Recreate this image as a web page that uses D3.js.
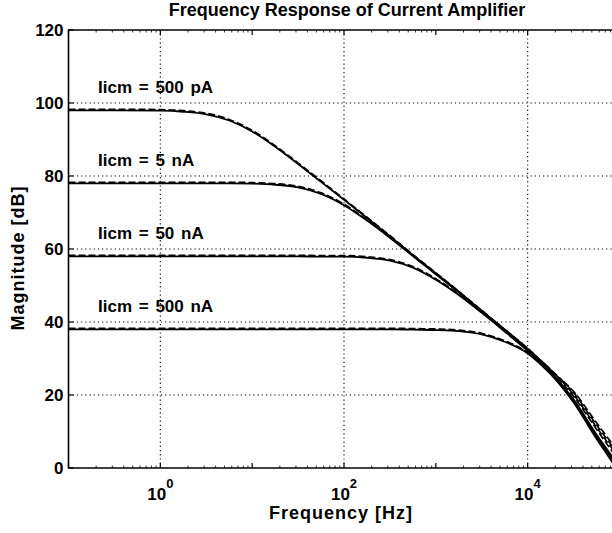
<!DOCTYPE html>
<html>
<head>
<meta charset="utf-8">
<script src="https://cdn.jsdelivr.net/npm/d3@7/dist/d3.min.js"></script>
<style>
  html, body { margin: 0; padding: 0; background: #fff; }
  svg { display: block; }
  text { font-family: "Liberation Sans", Arial, Helvetica, sans-serif; font-weight: bold; fill: #000; }
</style>
</head>
<body>
<svg id="chart" width="612" height="533"></svg>
<script>
// Frequency grid (Hz) shared by every trace
const freqHz = [0.1, 0.316, 1, 1.78, 3.16, 5.62, 10, 17.8, 31.6, 56.2, 100, 178, 316, 562,
                1000, 1780, 3160, 5620, 10000, 17800, 31600, 56200, 77600, 100000];

// Magnitude in dB, solid (measured) and dashed (model) per bias current
const solid500pA  = [98.0, 98.0, 97.9, 97.6, 96.9, 95.2, 92.2, 88.0, 83.3, 78.4, 73.5, 68.5, 63.5, 58.3, 53.3, 48.2, 43.0, 37.8, 32.5, 26.0, 18.0, 8.0, 2.8, -1.5];
const dashed500pA = [98.3, 98.3, 98.2, 97.9, 97.2, 95.5, 92.5, 88.3, 83.6, 78.7, 73.7, 68.7, 63.7, 58.5, 53.5, 48.4, 43.2, 38.0, 32.8, 26.7, 19.6, 10.6, 5.6, 1.8];
const solid5nA    = [78.0, 78.0, 78.0, 78.0, 78.0, 78.0, 77.9, 77.6, 76.9, 75.1, 72.0, 67.8, 63.1, 58.1, 53.1, 48.1, 42.9, 37.8, 32.4, 26.2, 18.4, 8.6, 3.5, -0.6];
const dashed5nA   = [78.3, 78.3, 78.3, 78.3, 78.3, 78.3, 78.2, 77.9, 77.2, 75.4, 72.3, 68.0, 63.3, 58.3, 53.3, 48.3, 43.1, 38.0, 32.7, 26.9, 20.1, 11.2, 6.3, 2.6];
const solid50nA   = [58.0, 58.0, 58.0, 58.0, 58.0, 58.0, 58.0, 58.0, 58.0, 57.9, 57.9, 57.6, 56.8, 54.9, 51.6, 47.4, 42.5, 37.4, 32.1, 26.3, 18.8, 9.2, 4.2, 0.2];
const dashed50nA  = [58.3, 58.3, 58.3, 58.3, 58.3, 58.3, 58.3, 58.3, 58.3, 58.2, 58.2, 57.9, 57.1, 55.2, 51.9, 47.6, 42.7, 37.6, 32.4, 27.0, 20.6, 11.8, 7.0, 3.4];
const solid500nA  = [38.0, 38.0, 38.0, 38.0, 38.0, 38.0, 38.0, 38.0, 38.0, 38.0, 38.0, 38.0, 38.0, 37.9, 37.8, 37.5, 36.6, 34.6, 31.4, 25.7, 18.2, 8.9, 3.9, 0.0];
const dashed500nA = [38.3, 38.3, 38.3, 38.3, 38.3, 38.3, 38.3, 38.3, 38.3, 38.3, 38.3, 38.3, 38.3, 38.2, 38.1, 37.8, 36.9, 34.9, 31.7, 26.6, 21.0, 12.4, 7.7, 4.2];

// Curve labels and their low-frequency gain (dB)
const curveLabels = ["Iicm = 500 pA", "Iicm = 5 nA", "Iicm = 50 nA", "Iicm = 500 nA"];
const curveGains  = [98, 78, 58, 38];

// Axis ticks
const yTicks = [0, 20, 40, 60, 80, 100, 120];
const xLabelExponents = [0, 2, 4];
const xDecades = [0.1, 1, 10, 100, 1000, 10000, 100000];

const titleText = "Frequency Response of Current Amplifier";
const xTitle = "Frequency [Hz]";
const yTitle = "Magnitude [dB]";

const svg = d3.select("#chart");
const plot = { left: 68.5, right: 619.5, top: 30, bottom: 468 };

const x = d3.scaleLog().domain([0.1, 1e5]).range([plot.left, plot.right]);
const y = d3.scaleLinear().domain([0, 120]).range([plot.bottom, plot.top]);

svg.append("defs").append("clipPath").attr("id", "plotClip")
  .append("rect")
  .attr("x", plot.left).attr("y", plot.top)
  .attr("width", plot.right - plot.left).attr("height", plot.bottom - plot.top);

// Dotted grid
const grid = svg.append("g").attr("stroke", "#000").attr("stroke-width", 1.1)
  .attr("stroke-dasharray", "1.2,3");
[20, 40, 60, 80, 100].forEach(v => {
  grid.append("line").attr("x1", plot.left).attr("x2", plot.right)
    .attr("y1", y(v)).attr("y2", y(v));
});
xLabelExponents.forEach(e => {
  grid.append("line").attr("x1", x(Math.pow(10, e))).attr("x2", x(Math.pow(10, e)))
    .attr("y1", plot.top).attr("y2", plot.bottom);
});

// Traces
const line = d3.line()
  .x((d, i) => x(freqHz[i]))
  .y(d => y(d))
  .curve(d3.curveMonotoneX);

const traces = svg.append("g").attr("clip-path", "url(#plotClip)").attr("fill", "none");
const solidSets  = [solid500pA, solid5nA, solid50nA, solid500nA];
const dashedSets = [dashed500pA, dashed5nA, dashed50nA, dashed500nA];

dashedSets.forEach(s => {
  traces.append("path").datum(s).attr("d", line)
    .attr("stroke", "#000").attr("stroke-width", 1.6)
    .attr("stroke-dasharray", "7,3");
});
solidSets.forEach(s => {
  traces.append("path").datum(s).attr("d", line)
    .attr("stroke", "#000").attr("stroke-width", 1.8);
});

// Frame
const frame = svg.append("g").attr("stroke", "#000").attr("stroke-width", 1.6).attr("fill", "none");
frame.append("line").attr("x1", plot.left).attr("x2", plot.left).attr("y1", plot.top - 0.8).attr("y2", plot.bottom + 0.8);
frame.append("line").attr("x1", plot.left).attr("x2", plot.right).attr("y1", plot.top).attr("y2", plot.top);
frame.append("line").attr("x1", plot.left).attr("x2", plot.right).attr("y1", plot.bottom).attr("y2", plot.bottom);
frame.append("line").attr("x1", plot.right).attr("x2", plot.right).attr("y1", plot.top).attr("y2", plot.bottom);

// Tick marks
const ticks = svg.append("g").attr("stroke", "#000").attr("stroke-width", 1.2);
yTicks.forEach(v => {
  ticks.append("line").attr("x1", plot.left).attr("x2", plot.left + 5).attr("y1", y(v)).attr("y2", y(v));
});
xDecades.forEach(f => {
  ticks.append("line").attr("x1", x(f)).attr("x2", x(f)).attr("y1", plot.bottom).attr("y2", plot.bottom - 5);
  ticks.append("line").attr("x1", x(f)).attr("x2", x(f)).attr("y1", plot.top).attr("y2", plot.top + 5);
});
const minor = svg.append("g").attr("stroke", "#000").attr("stroke-width", 0.8);
xDecades.slice(0, -1).forEach(f => {
  for (let k = 2; k <= 9; k++) {
    const fx = x(f * k);
    minor.append("line").attr("x1", fx).attr("x2", fx).attr("y1", plot.bottom).attr("y2", plot.bottom - 2.5);
    minor.append("line").attr("x1", fx).attr("x2", fx).attr("y1", plot.top).attr("y2", plot.top + 2.5);
  }
});

// Y tick labels
yTicks.forEach(v => {
  svg.append("text").attr("x", plot.left - 5).attr("y", y(v) + 6)
    .attr("text-anchor", "end").attr("font-size", 17).text(v);
});

// X tick labels as powers of ten
xLabelExponents.forEach(e => {
  const t = svg.append("text").attr("x", x(Math.pow(10, e))).attr("y", 500)
    .attr("text-anchor", "middle").attr("font-size", 17);
  t.append("tspan").text("10");
  t.append("tspan").attr("dy", -12).attr("font-size", 13).text(e);
});

// Curve labels
curveLabels.forEach((lbl, i) => {
  svg.append("text").attr("x", 98).attr("y", y(curveGains[i] + 4.8))
    .attr("font-size", 17).attr("word-spacing", 2).text(lbl);
});

// Titles
svg.append("text").attr("x", 347).attr("y", 16).attr("text-anchor", "middle")
  .attr("font-size", 18).text(titleText);
svg.append("text").attr("x", 341).attr("y", 519).attr("text-anchor", "middle")
  .attr("font-size", 18).attr("letter-spacing", 1).text(xTitle);
svg.append("text").attr("transform", "translate(24,258) rotate(-90)")
  .attr("text-anchor", "middle").attr("font-size", 18).attr("letter-spacing", 1).text(yTitle);
</script>
</body>
</html>
